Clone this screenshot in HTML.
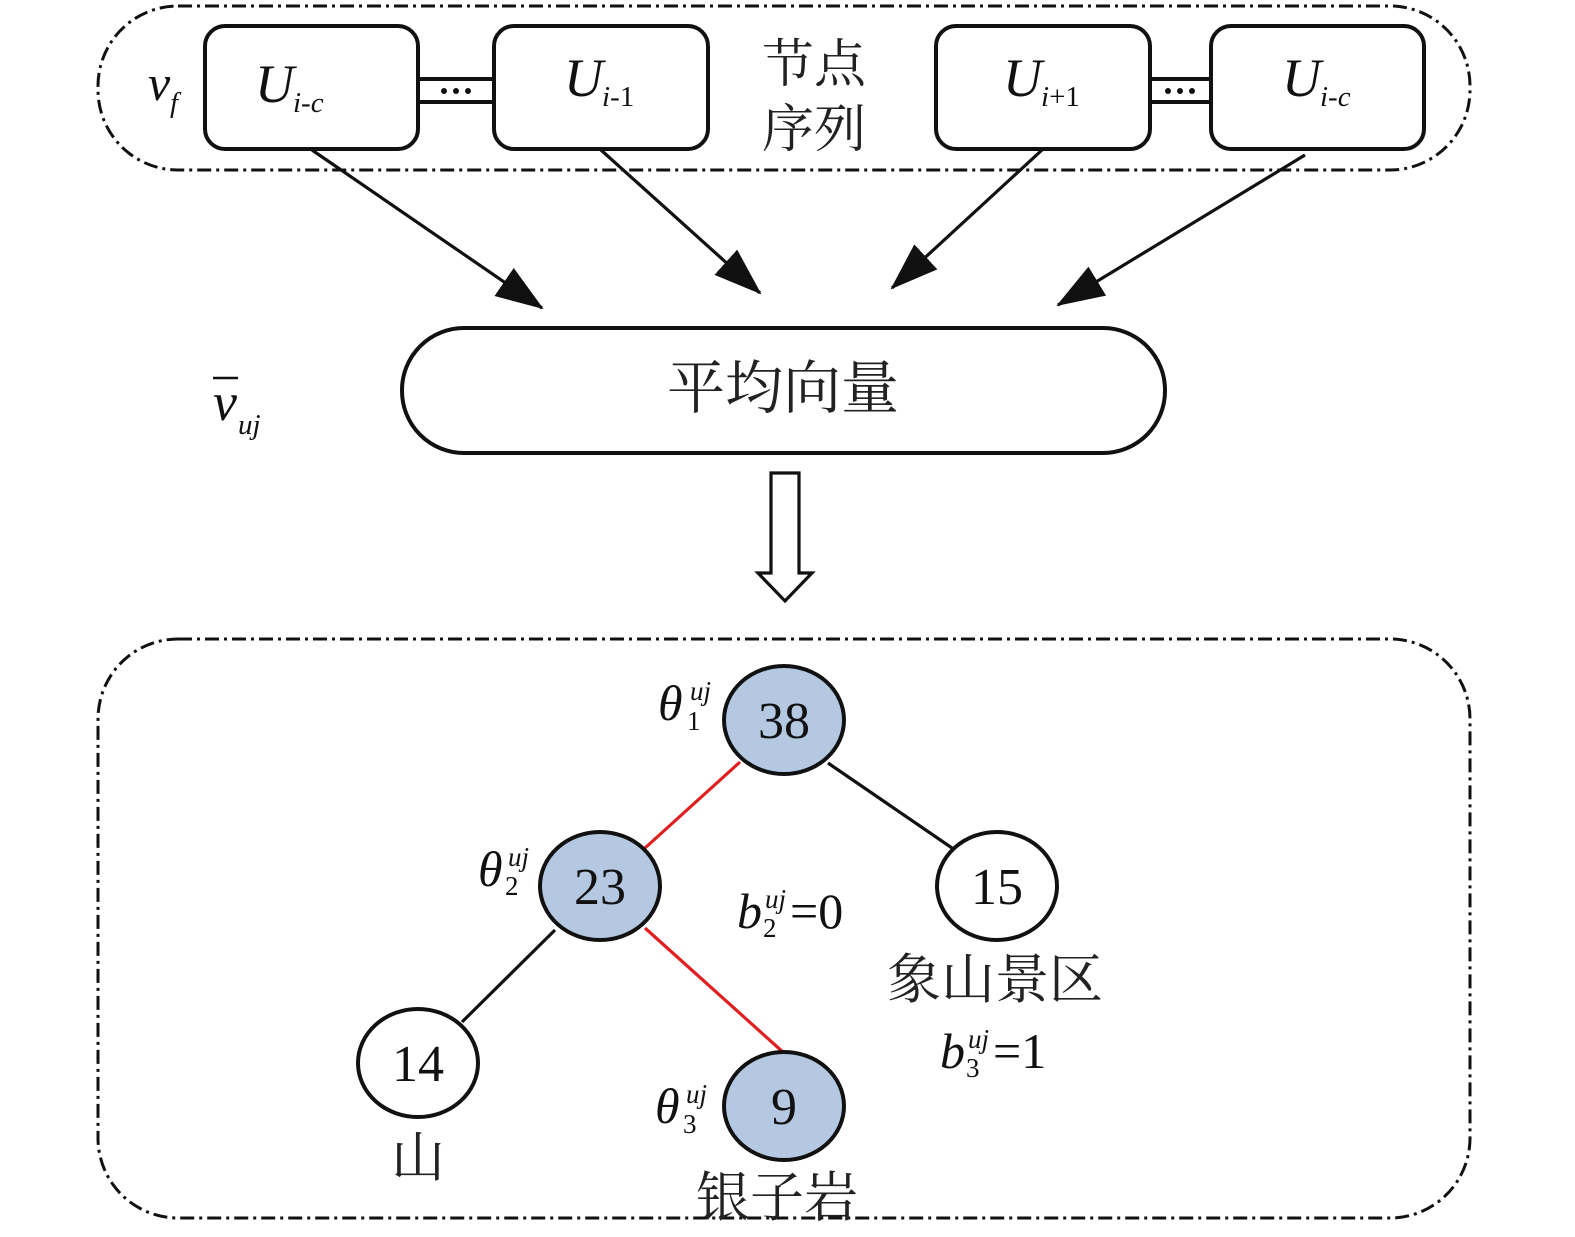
<!DOCTYPE html>
<html><head><meta charset="utf-8"><style>
html,body{margin:0;padding:0;background:#fff}
svg{display:block}
.t{font-family:"Liberation Serif","Noto Serif CJK SC",serif;fill:#111}
.c{font-family:"Liberation Serif","Noto Serif CJK SC","Noto Sans CJK SC",serif;fill:#222}
</style></head><body>
<svg width="1575" height="1237" viewBox="0 0 1575 1237" xmlns="http://www.w3.org/2000/svg">
<defs>
<marker id="b" markerWidth="48" markerHeight="34" refX="46" refY="17" orient="auto" markerUnits="userSpaceOnUse"><path d="M0,0 L48,17 L0,34 z" fill="#111"/></marker></defs>
<g fill="none" stroke="#111" stroke-width="3" stroke-dasharray="14,5,3,5">
<rect x="98" y="6" width="1372" height="164" rx="80"/>
<rect x="98" y="639" width="1372" height="579" rx="80"/>
</g>
<g fill="#fff" stroke="#111" stroke-width="4">
<rect x="205" y="26" width="213" height="123" rx="20"/>
<rect x="494" y="26" width="214" height="123" rx="20"/>
<rect x="936" y="26" width="214" height="123" rx="20"/>
<rect x="1211" y="26" width="213" height="123" rx="20"/>
<line x1="418" y1="79" x2="494" y2="79"/><line x1="418" y1="102" x2="494" y2="102"/>
<line x1="1150" y1="79" x2="1211" y2="79"/><line x1="1150" y1="102" x2="1211" y2="102"/>
</g>
<g fill="#111"><circle cx="444" cy="91" r="3"/><circle cx="456" cy="91" r="3"/><circle cx="468" cy="91" r="3"/>
<circle cx="1168" cy="91" r="3"/><circle cx="1180" cy="91" r="3"/><circle cx="1192" cy="91" r="3"/></g>
<g class="t" font-style="italic">
<text x="148" y="100" font-size="50">v</text><text x="170" y="112" font-size="29">f</text>
<text x="255" y="102" font-size="54">U</text><text x="293" y="112" font-size="29">i-c</text>
<text x="564" y="96" font-size="54">U</text><text x="602" y="106" font-size="29">i<tspan font-style="normal">-1</tspan></text>
<text x="1003" y="96" font-size="54">U</text><text x="1041" y="106" font-size="29">i<tspan font-style="normal">+1</tspan></text>
<text x="1282" y="96" font-size="54">U</text><text x="1320" y="106" font-size="29">i-c</text>
<text x="213" y="420" font-size="54">v</text><text x="238" y="434" font-size="29">uj</text>
</g>
<line x1="213" y1="378" x2="238" y2="378" stroke="#111" stroke-width="2.5"/>
<text class="c" x="762" y="82" font-size="52">节点</text>
<text class="c" x="762" y="147" font-size="52">序列</text>
<g stroke="#111" stroke-width="3.2">
<line x1="312" y1="150" x2="542" y2="308" marker-end="url(#b)"/>
<line x1="601" y1="150" x2="760" y2="293" marker-end="url(#b)"/>
<line x1="1042" y1="150" x2="892" y2="288" marker-end="url(#b)"/>
<line x1="1305" y1="155" x2="1058" y2="305" marker-end="url(#b)"/>
</g>
<rect x="402" y="328" width="763" height="125" rx="62" fill="#fff" stroke="#111" stroke-width="4"/>
<text class="c" x="783" y="408" font-size="58" text-anchor="middle">平均向量</text>
<path d="M771,473 L799,473 L799,573 L812,573 L785,601 L758,573 L771,573 Z" fill="#fff" stroke="#111" stroke-width="3.2"/>
<g stroke-width="3.2">
<line x1="740" y1="762" x2="645" y2="848" stroke="#e02020"/>
<line x1="645" y1="928" x2="784" y2="1053" stroke="#e02020"/>
<line x1="828" y1="763" x2="952" y2="848" stroke="#111"/>
<line x1="555" y1="930" x2="462" y2="1022" stroke="#111"/>
</g>
<g stroke="#111" stroke-width="4">
<ellipse cx="784" cy="720" rx="60" ry="54" fill="#b4c8e2"/>
<ellipse cx="600" cy="886" rx="60" ry="54" fill="#b4c8e2"/>
<ellipse cx="997" cy="886" rx="60" ry="54" fill="#fff"/>
<ellipse cx="418" cy="1063" rx="60" ry="54" fill="#fff"/>
<ellipse cx="784" cy="1106" rx="60" ry="54" fill="#b4c8e2"/>
</g>
<g class="t" font-size="52" text-anchor="middle">
<text x="784" y="738">38</text><text x="600" y="904">23</text><text x="997" y="904">15</text>
<text x="418" y="1081">14</text><text x="784" y="1124">9</text>
</g>
<g class="t">
<text x="658" y="720" font-size="50" font-style="italic">θ</text><text x="690" y="700" font-size="27" font-style="italic">uj</text><text x="687" y="730" font-size="27">1</text>
<text x="478" y="886" font-size="50" font-style="italic">θ</text><text x="508" y="866" font-size="27" font-style="italic">uj</text><text x="505" y="895" font-size="27">2</text>
<text x="655" y="1123" font-size="50" font-style="italic">θ</text><text x="686" y="1103" font-size="27" font-style="italic">uj</text><text x="683" y="1133" font-size="27">3</text>
<text x="737" y="928" font-size="50" font-style="italic">b</text><text x="765" y="908" font-size="27" font-style="italic">uj</text><text x="763" y="937" font-size="27">2</text><text x="790" y="928" font-size="50">=0</text>
<text x="940" y="1068" font-size="50" font-style="italic">b</text><text x="968" y="1048" font-size="27" font-style="italic">uj</text><text x="966" y="1077" font-size="27">3</text><text x="993" y="1068" font-size="50">=1</text>
</g>
<g class="c" font-size="54" text-anchor="middle">
<text x="995" y="998">象山景区</text>
<text x="418" y="1176">山</text>
<text x="777" y="1216">银子岩</text>
</g>
</svg>
</body></html>
